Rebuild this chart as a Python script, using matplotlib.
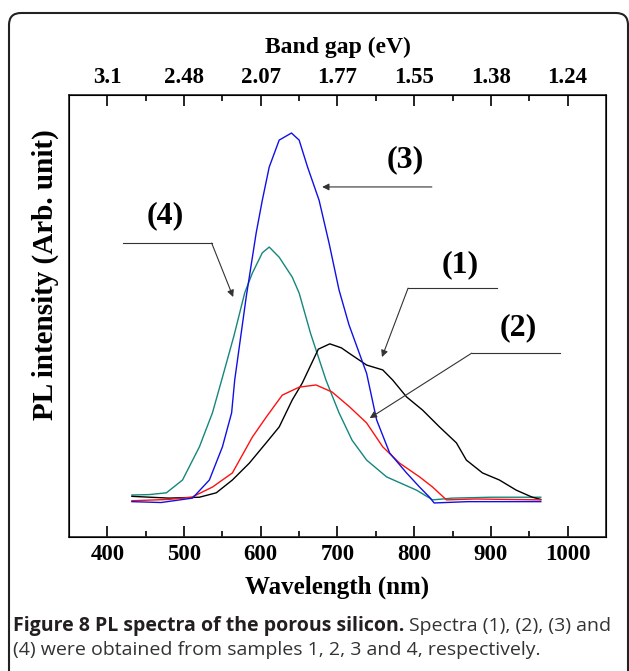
import matplotlib.pyplot as plt
from matplotlib.patches import FancyBboxPatch

# PL spectra (wavelength nm, intensity arb. unit)
wl1 = [432, 480, 520, 542, 563, 585, 607, 624, 641, 654, 675, 690, 705, 715, 738, 759, 772, 790, 811, 833, 855, 868, 889, 911, 933, 954, 965]
pl1 = [0.092, 0.088, 0.090, 0.100, 0.129, 0.167, 0.213, 0.249, 0.310, 0.348, 0.425, 0.437, 0.428, 0.416, 0.389, 0.378, 0.355, 0.317, 0.287, 0.249, 0.213, 0.174, 0.145, 0.129, 0.106, 0.090, 0.085]

wl2 = [432, 480, 510, 537, 563, 589, 607, 628, 650, 672, 693, 716, 738, 759, 781, 807, 824, 842, 880, 965]
pl2 = [0.082, 0.085, 0.090, 0.113, 0.145, 0.226, 0.271, 0.321, 0.339, 0.344, 0.328, 0.294, 0.258, 0.204, 0.167, 0.136, 0.113, 0.084, 0.086, 0.084]

wl3 = [432, 470, 511, 533, 550, 562, 566, 581, 594, 602, 611, 624, 640, 650, 661, 676, 689, 702, 715, 738, 751, 768, 790, 807, 820, 826, 870, 920, 965]
pl3 = [0.080, 0.078, 0.088, 0.129, 0.204, 0.281, 0.355, 0.543, 0.688, 0.762, 0.837, 0.898, 0.914, 0.898, 0.837, 0.762, 0.665, 0.559, 0.480, 0.370, 0.265, 0.190, 0.145, 0.113, 0.090, 0.077, 0.080, 0.080, 0.080]

wl4 = [432, 455, 477, 498, 520, 537, 549, 565, 579, 589, 602, 611, 624, 641, 650, 665, 685, 702, 719, 738, 764, 803, 824, 850, 900, 965]
pl4 = [0.095, 0.096, 0.100, 0.129, 0.204, 0.281, 0.355, 0.455, 0.552, 0.597, 0.643, 0.656, 0.633, 0.588, 0.552, 0.460, 0.355, 0.281, 0.219, 0.174, 0.136, 0.106, 0.084, 0.088, 0.090, 0.090]

wl_ticks = [400, 500, 600, 700, 800, 900, 1000]
ev_labels = ["3.1", "2.48", "2.07", "1.77", "1.55", "1.38", "1.24"]

serif = "Liberation Serif"

fig = plt.figure(figsize=(6.29, 6.71), dpi=100)
ax = fig.add_axes([0.1097, 0.1997, 0.8537, 0.6587])

ax.plot(wl4, pl4, color="#14877c", lw=1.0)
ax.plot(wl1, pl1, color="black", lw=1.0)
ax.plot(wl2, pl2, color="#ff1010", lw=1.0)
ax.plot(wl3, pl3, color="#1010e6", lw=1.0)

ax.set_xlim(350, 1050)
ax.set_ylim(0, 1)
ax.set_yticks([])
ax.set_xticks(wl_ticks)
ax.set_xticks([450, 550, 650, 750, 850, 950], minor=True)
ax.tick_params(axis="x", which="major", direction="in", length=8, width=1.2, pad=5)
ax.tick_params(axis="x", which="minor", direction="in", length=4, width=1.2)
for lab in ax.get_xticklabels():
    lab.set_fontfamily(serif)
    lab.set_fontweight("bold")
    lab.set_fontsize(16.5)
for s in ax.spines.values():
    s.set_linewidth(1.2)
    s.set_color("#222222")

top = ax.twiny()
top.set_xlim(ax.get_xlim())
top.set_xticks(wl_ticks)
top.set_xticklabels(ev_labels)
top.set_xticks([450, 550, 650, 750, 850, 950], minor=True)
top.tick_params(axis="x", which="major", direction="in", length=8, width=1.2, pad=5)
top.tick_params(axis="x", which="minor", direction="in", length=4, width=1.2)
for lab in top.get_xticklabels():
    lab.set_fontfamily(serif)
    lab.set_fontweight("bold")
    lab.set_fontsize(16.5)

ax.set_xlabel("Wavelength (nm)", fontfamily=serif, fontweight="bold", fontsize=18, labelpad=8)
top.set_xlabel("Band gap (eV)", fontfamily=serif, fontweight="bold", fontsize=17, labelpad=10)
fig.text(0.072, 0.59, "PL intensity (Arb. unit)", rotation=90, ha="center", va="center",
         fontfamily=serif, fontweight="bold", fontsize=21)

# curve labels with leader lines
lbl = dict(fontfamily=serif, fontweight="bold", fontsize=23, ha="center", va="center")
arr = dict(arrowstyle="-|>", lw=0.8, color="#333333", mutation_scale=10, shrinkA=0, shrinkB=0)

ax.text(788, 0.853, "(3)", **lbl)
ax.annotate("", xy=(680, 0.792), xytext=(823, 0.792), arrowprops=arr)

ax.text(475, 0.728, "(4)", **lbl)
ax.plot([420, 536], [0.665, 0.665], color="#333333", lw=0.8)
ax.annotate("", xy=(564, 0.543), xytext=(536, 0.665), arrowprops=arr)

ax.text(860, 0.615, "(1)", **lbl)
ax.plot([792, 908], [0.563, 0.563], color="#333333", lw=0.8)
ax.annotate("", xy=(758, 0.407), xytext=(792, 0.563), arrowprops=arr)

ax.text(935, 0.473, "(2)", **lbl)
ax.plot([875, 990], [0.416, 0.416], color="#333333", lw=0.8)
ax.annotate("", xy=(742, 0.269), xytext=(875, 0.416), arrowprops=arr)

# rounded frame around the figure
frame = FancyBboxPatch((0.09, -0.5), 6.19, 7.08, boxstyle="round,pad=0,rounding_size=0.12",
                       transform=fig.dpi_scale_trans, fill=False, lw=1.5, ec="#222222")
fig.patches.append(frame)

# caption: bold lead-in followed by regular text on the same line
cap_y1 = 0.059
cap_y2 = 0.024
bold = fig.text(0.02, cap_y1, "Figure 8 PL spectra of the porous silicon.", fontfamily="Open Sans",
                fontweight="bold", fontsize=14, color="#231f20", va="baseline")
fig.text(0.02, cap_y2, "(4) were obtained from samples 1, 2, 3 and 4, respectively.",
         fontfamily="Open Sans", fontsize=14, color="#333333", va="baseline")
fig.canvas.draw()
bb = bold.get_window_extent().transformed(fig.transFigure.inverted())
fig.text(bb.x1 + 0.008, cap_y1, "Spectra (1), (2), (3) and", fontfamily="Open Sans", fontsize=14,
         color="#333333", va="baseline")

fig.savefig("out.png", dpi=100)
